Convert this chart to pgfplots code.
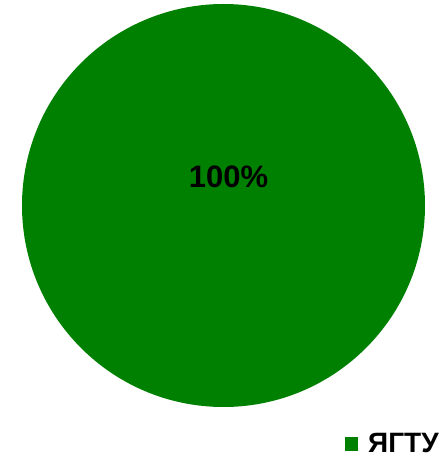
\documentclass[border=0pt]{standalone}
\usepackage{pgfplots}
\pgfplotsset{compat=1.18}
\usepackage{pgfplotstable}
\usepackage{fontspec}
\setmainfont{Liberation Sans}
\definecolor{piegreen}{RGB}{0,128,0}
\pgfplotstableread{
value
100
}\piedata
\begin{document}
\begin{tikzpicture}
\useasboundingbox (0,0) rectangle (441pt,464pt);
\pgfplotstablegetelem{0}{value}\of\piedata
\pgfmathsetmacro\pieend{3.6*\pgfplotsretval}
\begin{axis}[
  at={(0,0)}, anchor=south west,
  width=441pt, height=464pt, scale only axis,
  xmin=0, xmax=441, ymin=0, ymax=464,
  hide axis, clip=false,
  legend style={at={(axis cs:345,20)}, anchor=west, draw=none, fill=none,
    font=\bfseries\fontsize{28}{30}\selectfont, inner sep=0pt,
    /tikz/every odd column/.append style={column sep=8pt}},
  legend image code/.code={\fill[#1] (0pt,-7pt) rectangle (13pt,7pt);},
]
\fill[piegreen] (axis cs:223.5,258.5) -- +(90:201.5) arc[start angle=90, end angle={90-\pieend}, radius=201.5] -- cycle;
\addlegendimage{piegreen, fill=piegreen, draw=none}
\addlegendentry{ЯГТУ}
\node[font=\bfseries\fontsize{31}{31}\selectfont, text=black] at (axis cs:228.5,287.5) {100\%};
\end{axis}
\end{tikzpicture}
\end{document}
